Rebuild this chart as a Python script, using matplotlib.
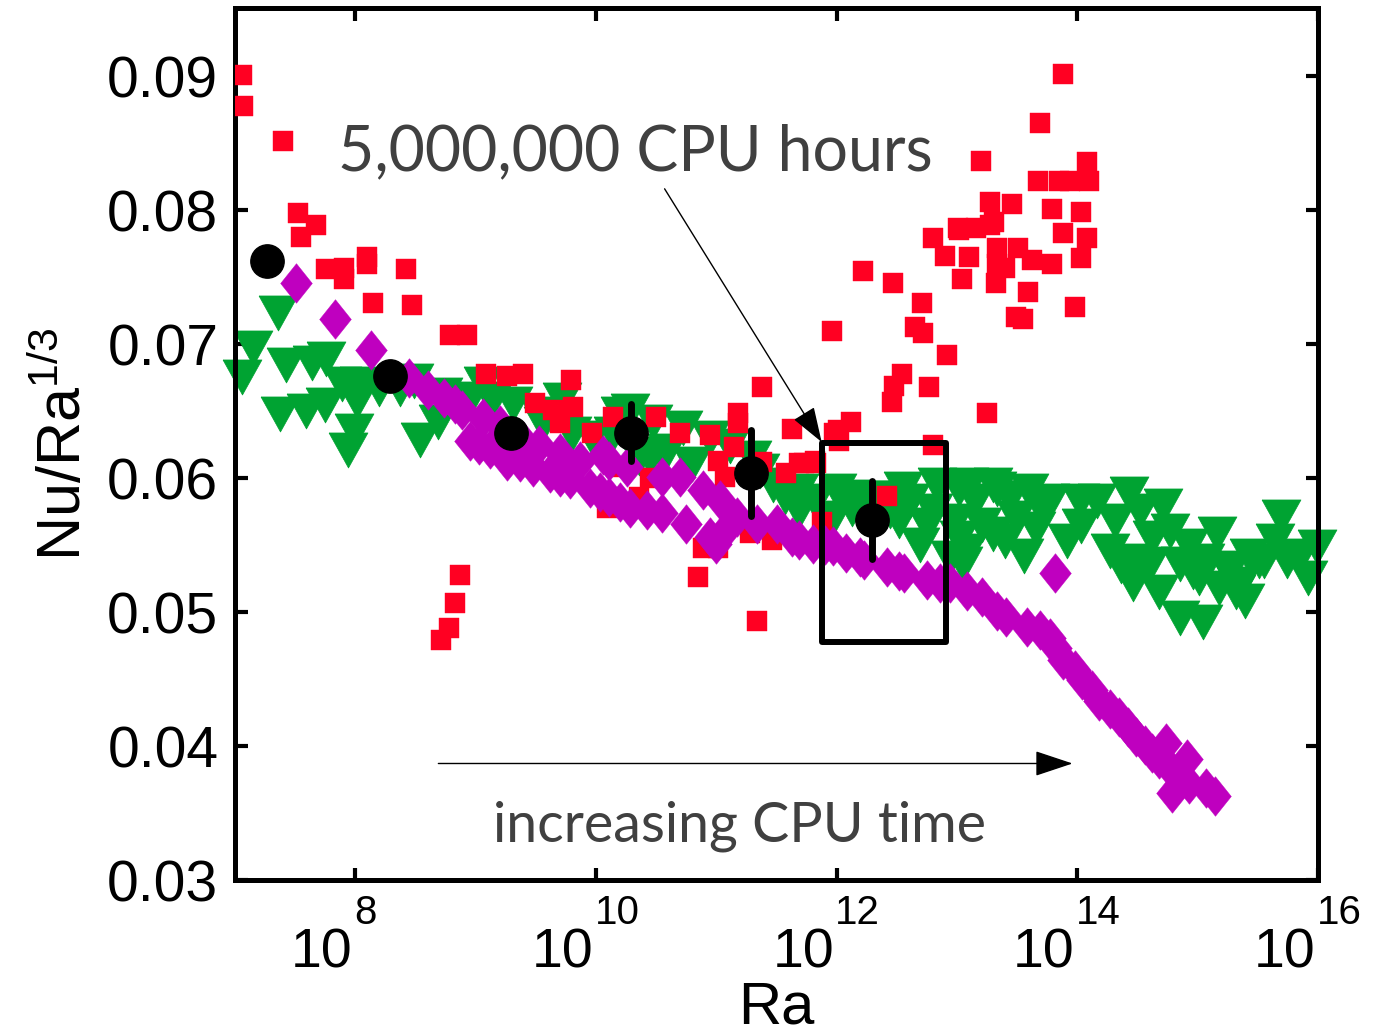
import matplotlib
matplotlib.use("Agg")
import matplotlib.pyplot as plt
from matplotlib.patches import Rectangle
import numpy as np

# log10(Ra) and Nu/Ra^(1/3)
red_logra = [7.06, 7.07, 7.40, 7.52, 7.67, 7.55, 7.76, 7.91, 7.91, 8.10, 8.10, 8.42, 8.15, 8.47,
             8.79, 8.93, 9.09, 9.26, 9.39, 9.79, 9.49, 9.64, 9.70, 9.81, 9.97, 10.14, 10.09, 10.21,
             10.36, 10.50, 10.45, 8.71, 8.78, 8.83, 8.87, 10.70, 10.95, 11.01, 11.07, 11.18, 11.18,
             11.15, 11.38, 11.38, 11.58, 11.63, 11.73, 11.83, 11.98, 11.88, 10.89, 11.01, 11.28,
             11.46, 10.85, 11.34, 12.12, 12.01, 12.02, 11.82, 11.69, 12.42, 12.80, 11.96, 12.22,
             12.47, 12.71, 12.65, 12.72, 12.92, 12.54, 12.48, 12.46, 12.77, 13.25, 12.80, 13.02,
             13.27, 12.90, 13.10, 13.33, 13.33, 13.40, 13.51, 13.62, 13.79, 13.88, 14.08, 14.03,
             13.04, 13.32, 13.59, 13.98, 13.49, 13.55, 13.88, 13.69, 13.20, 14.08, 13.67, 13.85,
             13.94, 14.10, 13.27, 13.46, 13.79, 14.03, 13.31, 13.01, 13.16]
red_nu = [0.0901, 0.0878, 0.0852, 0.0798, 0.0789, 0.0780, 0.0756, 0.0757, 0.0749, 0.0765, 0.0760,
          0.0756, 0.0731, 0.0729, 0.0707, 0.0707, 0.0678, 0.0676, 0.0678, 0.0673, 0.0656, 0.0651,
          0.0641, 0.0653, 0.0634, 0.0646, 0.0578, 0.0608, 0.0586, 0.0646, 0.0600, 0.0479, 0.0488,
          0.0507, 0.0528, 0.0634, 0.0632, 0.0613, 0.0601, 0.0649, 0.0641, 0.0623, 0.0668, 0.0612,
          0.0604, 0.0637, 0.0611, 0.0611, 0.0634, 0.0567, 0.0548, 0.0548, 0.0559, 0.0554, 0.0526,
          0.0493, 0.0642, 0.0636, 0.0628, 0.0613, 0.0611, 0.0587, 0.0625, 0.0710, 0.0755, 0.0746,
          0.0731, 0.0713, 0.0708, 0.0692, 0.0678, 0.0669, 0.0657, 0.0668, 0.0649, 0.0779, 0.0785,
          0.0789, 0.0766, 0.0765, 0.0772, 0.0760, 0.0757, 0.0772, 0.0763, 0.0760, 0.0783, 0.0779,
          0.0764, 0.0749, 0.0746, 0.0739, 0.0728, 0.0720, 0.0719, 0.0902, 0.0865, 0.0837, 0.0836,
          0.0822, 0.0822, 0.0822, 0.0822, 0.0806, 0.0805, 0.0801, 0.0799, 0.0791, 0.0787, 0.0787]

green_logra = [7.36, 7.15, 7.06, 7.42, 7.64, 7.76, 7.89, 8.03, 7.37, 7.59, 7.75, 8.01, 7.94, 7.99,
               8.20, 8.37, 8.54, 8.69, 8.49, 8.73, 8.95, 9.14, 9.06, 9.31, 9.72, 9.80, 10.20, 9.53,
               9.56, 9.97, 10.14, 10.45, 10.55, 10.28, 10.47, 10.72, 10.95, 10.59, 10.36, 10.80,
               11.30, 11.47, 11.69, 12.00, 12.13, 12.55, 12.83, 13.10, 13.30, 12.52, 12.80, 13.02,
               13.21, 12.69, 12.75, 12.94, 13.05, 11.69, 11.97, 13.02, 13.33, 13.60, 13.77, 14.16,
               14.43, 14.71, 15.16, 15.69, 15.99, 15.92, 15.55, 15.04, 14.85, 14.46, 14.27, 14.03,
               13.91, 14.60, 14.96, 15.18, 15.35, 13.08, 13.30, 13.49, 13.66, 14.62, 14.85, 15.24,
               15.51, 15.74, 15.01, 15.32, 12.32,
               14.31, 14.52, 14.77, 14.93, 15.06, 15.26, 15.43, 15.64, 15.85, 14.48, 12.27, 12.44,
               12.61, 12.98, 13.15, 13.44, 13.69, 14.02, 13.40, 13.56, 14.36, 14.68, 15.39, 11.11,
               11.36, 11.57, 11.82, 12.11]
green_nu = [0.0724, 0.0698, 0.0676, 0.0685, 0.0687, 0.0690, 0.0671, 0.0671, 0.0649, 0.0651, 0.0655,
            0.0658, 0.0622, 0.0636, 0.0667, 0.0667, 0.0629, 0.0643, 0.0673, 0.0663, 0.0660, 0.0660,
            0.0671, 0.0656, 0.0659, 0.0634, 0.0649, 0.0649, 0.0641, 0.0631, 0.0634, 0.0616, 0.0619,
            0.0651, 0.0643, 0.0638, 0.0631, 0.0621, 0.0616, 0.0611, 0.0616, 0.0596, 0.0591, 0.0591,
            0.0578, 0.0593, 0.0596, 0.0596, 0.0596, 0.0569, 0.0576, 0.0556, 0.0566, 0.0551, 0.0566,
            0.0541, 0.0537, 0.0576, 0.0571, 0.0593, 0.0593, 0.0591, 0.0584, 0.0584, 0.0589, 0.0580,
            0.0559, 0.0572, 0.0549, 0.0526, 0.0539, 0.0493, 0.0496, 0.0522, 0.0546, 0.0565, 0.0554,
            0.0537, 0.0531, 0.0519, 0.0522, 0.0546, 0.0559, 0.0571, 0.0563, 0.0556, 0.0537, 0.0534,
            0.0539, 0.0539, 0.0526, 0.0516, 0.0586,
            0.0569, 0.0576, 0.0561, 0.0550, 0.0539, 0.0531, 0.0543, 0.0554, 0.0543, 0.0539, 0.0586,
            0.0576, 0.0584, 0.0569, 0.0584, 0.0586, 0.0580, 0.0584, 0.0554, 0.0543, 0.0535, 0.0516,
            0.0509, 0.0625, 0.0606, 0.0587, 0.0584, 0.0587]

magenta_logra = [7.51, 7.83, 8.13, 8.45, 8.60, 8.74, 8.83, 8.89, 9.06, 8.95, 9.12, 9.20, 9.26,
                 9.39, 9.48, 9.62, 9.78, 9.95, 10.11, 10.28, 10.42, 10.55, 10.06, 10.26, 10.55,
                 10.11, 10.70, 10.89, 11.03, 10.75, 10.95, 11.00, 11.17, 11.34, 11.50, 11.63,
                 11.80, 11.97, 12.08, 12.23, 12.42, 12.56, 12.75, 12.94, 13.08, 13.21, 13.33,
                 13.41, 13.58, 13.69, 13.77, 13.81, 13.88, 13.98, 14.04, 14.12, 14.18, 14.27,
                 14.35, 14.42, 14.49, 14.56, 14.62, 14.68, 14.74, 14.77, 14.79, 14.91, 14.93,
                 15.07, 15.14,
                 9.53, 9.70, 9.87, 9.03, 9.37, 9.70, 10.03, 10.20, 13.82, 14.85, 11.09, 11.69,
                 11.90, 12.19, 12.52, 12.86]
magenta_nu = [0.0746, 0.0719, 0.0696, 0.0675, 0.0666, 0.0660, 0.0655, 0.0651, 0.0645, 0.0628,
              0.0622, 0.0640, 0.0613, 0.0628, 0.0608, 0.0604, 0.0599, 0.0593, 0.0586, 0.0578,
              0.0576, 0.0574, 0.0617, 0.0608, 0.0601, 0.0613, 0.0601, 0.0591, 0.0584, 0.0566,
              0.0556, 0.0551, 0.0571, 0.0566, 0.0566, 0.0556, 0.0551, 0.0549, 0.0544, 0.0539,
              0.0534, 0.0529, 0.0524, 0.0522, 0.0516, 0.0511, 0.0501, 0.0496, 0.0489, 0.0487,
              0.0481, 0.0529, 0.0464, 0.0457, 0.0449, 0.0442, 0.0434, 0.0428, 0.0422, 0.0414,
              0.0407, 0.0401, 0.0395, 0.0390, 0.0402, 0.0384, 0.0365, 0.0390, 0.0372, 0.0369,
              0.0363,
              0.0625, 0.0619, 0.0613, 0.0625, 0.0612, 0.0601, 0.0590, 0.0582, 0.0473, 0.0378,
              0.0563, 0.0554, 0.0550, 0.0541, 0.0531, 0.0522]

black_logra = [7.27, 8.29, 9.29, 10.29, 11.29, 12.29]
black_nu = [0.0762, 0.0676, 0.0634, 0.0634, 0.0604, 0.0569]
black_err = [0.0, 0.0, 0.0, 0.0021, 0.0032, 0.0029]

box_logra = (11.875, 12.905)
box_nu = (0.0478, 0.0626)

x_ticks = [8, 10, 12, 14, 16]
y_ticks = [0.03, 0.04, 0.05, 0.06, 0.07, 0.08, 0.09]


def main():
    plt.rcParams['font.family'] = ['Liberation Sans', 'DejaVu Sans']
    plt.rcParams['mathtext.fontset'] = 'custom'
    plt.rcParams['mathtext.rm'] = 'Liberation Sans'
    plt.rcParams['mathtext.it'] = 'Liberation Sans:italic'
    plt.rcParams['mathtext.default'] = 'regular'

    fig = plt.figure(figsize=(13.79, 10.34), dpi=100)
    ax = fig.add_axes([0.1704, 0.1489, 0.7854, 0.8434])

    tri = [(-1, 0.85), (1, 0.85), (0, -0.95), (-1, 0.85)]
    dia = [(0, 1), (0.8, 0), (0, -1), (-0.8, 0), (0, 1)]

    ax.plot(10 ** np.array(green_logra), green_nu, ls='none', marker=tri, ms=28,
            color='#00a332', mec='#00a332', mew=0.5, zorder=2, clip_on=False)
    ax.plot(10 ** np.array(red_logra), red_nu, ls='none', marker='s', ms=14.3,
            color='#ff0022', mec='#ff0022', mew=0.3, zorder=3)
    ax.plot(10 ** np.array(magenta_logra), magenta_nu, ls='none', marker=dia, ms=28.5,
            color='#bf00bf', mec='#bf00bf', mew=0.3, zorder=4)

    bx = 10 ** np.array(black_logra)
    for xi, yi, ei in zip(bx, black_nu, black_err):
        if ei > 0:
            ax.plot([xi, xi], [yi - ei, yi + ei], color='black', lw=5,
                    solid_capstyle='round', zorder=5)
    ax.plot(bx, black_nu, ls='none', marker='o', ms=24, color='black', zorder=6)

    x0, x1 = 10 ** box_logra[0], 10 ** box_logra[1]
    ax.add_patch(Rectangle((x0, box_nu[0]), x1 - x0, box_nu[1] - box_nu[0], fill=False,
                           lw=4.3, ec='black', joinstyle='round', zorder=7))

    ax.annotate('', xy=(10 ** 11.875, 0.0627), xytext=(10 ** 10.57, 0.0816),
                arrowprops=dict(arrowstyle='-|>,head_length=1.1,head_width=0.38',
                                mutation_scale=20, lw=1.0, color='black',
                                shrinkA=0, shrinkB=0), zorder=8)
    ax.annotate('', xy=(10 ** 13.96, 0.0387), xytext=(10 ** 8.69, 0.0387),
                arrowprops=dict(arrowstyle='-|>,head_length=1.2,head_width=0.4',
                                mutation_scale=20, lw=1.0, color='black',
                                shrinkA=0, shrinkB=0), zorder=8)

    ax.text(10 ** 7.86, 0.0843, '5,000,000 CPU hours', ha='left', va='center',
            fontsize=45, color='#404040', family=['Lato', 'DejaVu Sans'], zorder=9)
    ax.text(10 ** 11.19, 0.0340, 'increasing CPU time', ha='center', va='center',
            fontsize=40, color='#404040', family=['Lato', 'DejaVu Sans'], zorder=9)

    ax.set_xscale('log')
    ax.set_xlim(1e7, 1e16)
    ax.set_ylim(0.03, 0.0951)
    ax.set_xticks([10.0 ** t for t in x_ticks], ['' for t in x_ticks])
    ax.xaxis.set_minor_locator(matplotlib.ticker.NullLocator())
    ax.set_yticks(y_ticks, ['%.2f' % v for v in y_ticks])

    # x tick labels drawn as "10" plus a raised exponent, like the original
    for t in x_ticks:
        ax.annotate('10', xy=(10.0 ** t, 0), xycoords=('data', 'axes fraction'),
                    xytext=(-2, -63), textcoords='offset points', ha='right',
                    va='baseline', fontsize=40, annotation_clip=False)
        ax.annotate(str(t), xy=(10.0 ** t, 0), xycoords=('data', 'axes fraction'),
                    xytext=(-1, -32), textcoords='offset points', ha='left',
                    va='baseline', fontsize=29, annotation_clip=False)

    ax.tick_params(direction='in', length=9, width=3, labelsize=41,
                   top=True, right=True, pad=12)
    for spine in ax.spines.values():
        spine.set_linewidth(3.6)

    ax.set_xlabel('Ra', fontsize=43, labelpad=60)
    ax.set_ylabel(r'Nu/Ra$^{1/3}$', fontsize=44, labelpad=10)

    fig.savefig('out.png', dpi=100)


if __name__ == "__main__":
    main()
